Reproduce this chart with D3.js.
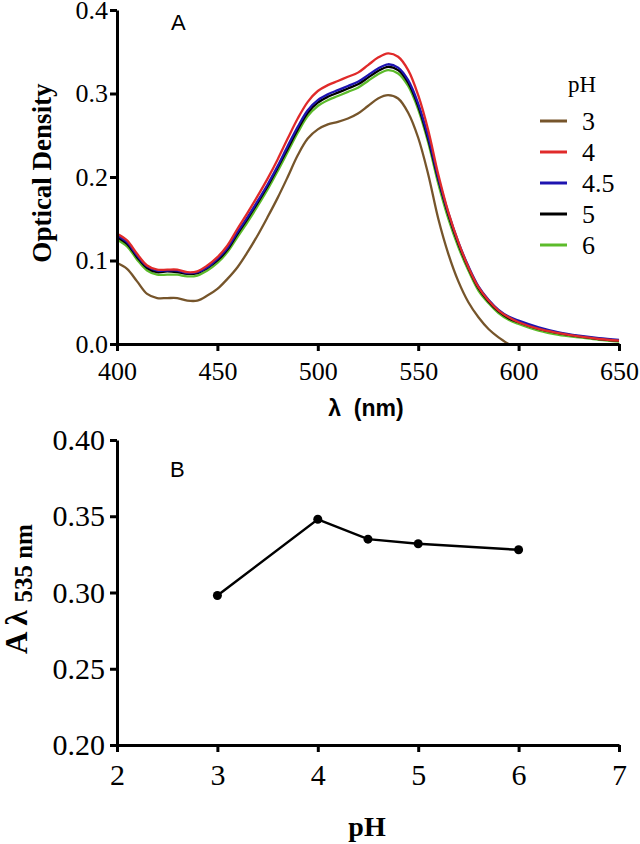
<!DOCTYPE html>
<html>
<head>
<meta charset="utf-8">
<script src="https://cdn.jsdelivr.net/npm/d3@7"></script>
<style>
  body { margin: 0; background: #fff; }
</style>
</head>
<body>
<script>
const SERIF = "'Liberation Serif', 'Times New Roman', Times, serif";
const SANS = "'Liberation Sans', Arial, Helvetica, sans-serif";

// wavelengths (nm) for spectra
const wl = [400,405,410,415,420,425,430,435,440,445,450,455,460,465,470,475,480,485,490,495,500,505,510,515,520,525,530,535,540,545,550,555,560,565,570,575,580,585,590,595,600,610,620,630,640,650];

// optical density, one array per pH
const od3 = [0.097,0.090,0.075,0.060,0.055,0.055,0.055,0.052,0.052,0.058,0.066,0.078,0.092,0.110,0.130,0.152,0.175,0.200,0.226,0.246,0.257,0.263,0.266,0.270,0.276,0.285,0.294,0.298,0.294,0.277,0.247,0.203,0.150,0.108,0.075,0.050,0.032,0.018,0.008,0.000];
const od4 = [0.132,0.124,0.108,0.094,0.089,0.089,0.089,0.086,0.087,0.094,0.104,0.118,0.138,0.157,0.177,0.198,0.221,0.246,0.270,0.290,0.303,0.310,0.315,0.320,0.325,0.334,0.343,0.348,0.344,0.328,0.298,0.256,0.203,0.158,0.122,0.092,0.068,0.052,0.040,0.032,0.026,0.018,0.013,0.009,0.006,0.004];
const od45 = [0.130,0.122,0.106,0.093,0.088,0.088,0.088,0.085,0.086,0.092,0.102,0.115,0.134,0.152,0.171,0.191,0.213,0.237,0.260,0.280,0.292,0.299,0.304,0.309,0.314,0.322,0.330,0.335,0.331,0.316,0.288,0.248,0.199,0.157,0.122,0.093,0.069,0.053,0.041,0.033,0.028,0.020,0.014,0.010,0.007,0.005];
const od5 = [0.128,0.120,0.104,0.091,0.086,0.087,0.086,0.084,0.085,0.091,0.100,0.113,0.132,0.150,0.169,0.189,0.211,0.234,0.257,0.277,0.289,0.296,0.301,0.306,0.311,0.319,0.327,0.332,0.328,0.313,0.285,0.245,0.197,0.155,0.120,0.091,0.067,0.051,0.039,0.031,0.026,0.018,0.013,0.009,0.006,0.004];
const od6 = [0.125,0.117,0.101,0.088,0.083,0.083,0.083,0.081,0.082,0.088,0.097,0.110,0.128,0.146,0.165,0.185,0.207,0.230,0.253,0.273,0.285,0.292,0.297,0.302,0.307,0.315,0.323,0.328,0.324,0.309,0.281,0.241,0.192,0.150,0.116,0.088,0.064,0.049,0.037,0.029,0.024,0.016,0.011,0.008,0.005,0.003];

const phLabels = ["3","4","4.5","5","6"];
const phColors = ["#76552b","#e02a2a","#1e14b0","#000000","#5cbb2a"];

// panel B: absorbance at 535 nm vs pH
const phValues = [3,4,4.5,5,6];
const a535 = [0.298,0.348,0.335,0.332,0.328];

const xTicksA = [400,450,500,550,600,650];
const yTicksA = [0.0,0.1,0.2,0.3,0.4];
const xTicksB = [2,3,4,5,6,7];
const yTicksB = [0.20,0.25,0.30,0.35,0.40];

const svg = d3.select("body").append("svg")
    .attr("width", 640)
    .attr("height", 844);

function styleAxis(g, size) {
    g.attr("font-family", SERIF).attr("font-size", size);
    g.selectAll("path.domain").attr("stroke", "#000").attr("stroke-width", 3);
    g.selectAll(".tick line").attr("stroke", "#000").attr("stroke-width", 3);
    g.selectAll(".tick text").attr("fill", "#000");
}

// ---------- Panel A ----------
const xA = d3.scaleLinear().domain([400, 650]).range([117, 619]);
const yA = d3.scaleLinear().domain([0, 0.4]).range([344, 10]);

const spectra = [od3, od4, od45, od5, od6].map((vals, i) => ({
    label: phLabels[i],
    color: phColors[i],
    points: vals.map((v, j) => [wl[j], v])
}));

const lineA = d3.line()
    .x(d => xA(d[0]))
    .y(d => yA(d[1]))
    .curve(d3.curveCatmullRom.alpha(0.5));

// draw order: brown, green, black, blue, red
[0, 4, 3, 2, 1].forEach(i => {
    svg.append("path")
        .attr("d", lineA(spectra[i].points))
        .attr("fill", "none")
        .attr("stroke", spectra[i].color)
        .attr("stroke-width", 2.3);
});

const gxA = svg.append("g")
    .attr("transform", "translate(0,344)")
    .call(d3.axisBottom(xA).tickValues(xTicksA).tickFormat(d3.format("d")).tickSize(7).tickSizeOuter(0).tickPadding(11));
styleAxis(gxA, 26);

const gyA = svg.append("g")
    .attr("transform", "translate(117,0)")
    .call(d3.axisLeft(yA).tickValues(yTicksA).tickFormat(d3.format(".1f")).tickSize(7).tickSizeOuter(0).tickPadding(2));
styleAxis(gyA, 26);

svg.append("text")
    .attr("transform", "translate(51,173) rotate(-90)")
    .attr("text-anchor", "middle")
    .attr("font-family", SERIF)
    .attr("font-size", 27)
    .attr("font-weight", "bold")
    .text("Optical Density");

svg.append("text")
    .attr("x", 366)
    .attr("y", 416)
    .attr("text-anchor", "middle")
    .attr("font-family", SANS)
    .attr("font-size", 23)
    .attr("font-weight", "bold")
    .style("white-space", "pre")
    .text("λ  (nm)");

svg.append("text")
    .attr("x", 171)
    .attr("y", 30)
    .attr("font-family", SANS)
    .attr("font-size", 22)
    .text("A");

// legend
svg.append("text")
    .attr("x", 582)
    .attr("y", 92)
    .attr("text-anchor", "middle")
    .attr("font-family", SERIF)
    .attr("font-size", 23)
    .text("pH");

const legend = svg.append("g");
spectra.forEach((s, i) => {
    const y = 121 + i * 31;
    legend.append("line")
        .attr("x1", 540).attr("x2", 567)
        .attr("y1", y).attr("y2", y)
        .attr("stroke", s.color)
        .attr("stroke-width", 3);
    legend.append("text")
        .attr("x", 582)
        .attr("y", y + 9)
        .attr("font-family", SERIF)
        .attr("font-size", 26)
        .text(s.label);
});

// ---------- Panel B ----------
const xB = d3.scaleLinear().domain([2, 7]).range([117, 619]);
const yB = d3.scaleLinear().domain([0.2, 0.4]).range([745, 440]);

const ptsB = phValues.map((p, i) => [p, a535[i]]);

svg.append("path")
    .attr("d", d3.line().x(d => xB(d[0])).y(d => yB(d[1]))(ptsB))
    .attr("fill", "none")
    .attr("stroke", "#000")
    .attr("stroke-width", 2.5);

svg.selectAll("circle.pt")
    .data(ptsB)
    .join("circle")
    .attr("class", "pt")
    .attr("cx", d => xB(d[0]))
    .attr("cy", d => yB(d[1]))
    .attr("r", 4.5)
    .attr("fill", "#000");

const gxB = svg.append("g")
    .attr("transform", "translate(0,745)")
    .call(d3.axisBottom(xB).tickValues(xTicksB).tickFormat(d3.format("d")).tickSize(7).tickSizeOuter(0).tickPadding(12));
styleAxis(gxB, 30);

const gyB = svg.append("g")
    .attr("transform", "translate(117,0)")
    .call(d3.axisLeft(yB).tickValues(yTicksB).tickFormat(d3.format(".2f")).tickSize(7).tickSizeOuter(0).tickPadding(5));
styleAxis(gyB, 30);

const yLabB = svg.append("text")
    .attr("transform", "translate(27,589) rotate(-90)")
    .attr("text-anchor", "middle")
    .attr("font-family", SERIF)
    .attr("font-size", 31)
    .attr("font-weight", "bold");
yLabB.append("tspan").text("A λ ");
yLabB.append("tspan").attr("dy", 5).attr("font-size", 25).text("535 nm");

svg.append("text")
    .attr("x", 367)
    .attr("y", 836)
    .attr("text-anchor", "middle")
    .attr("font-family", SERIF)
    .attr("font-size", 28)
    .attr("font-weight", "bold")
    .text("pH");

svg.append("text")
    .attr("x", 170)
    .attr("y", 477)
    .attr("font-family", SANS)
    .attr("font-size", 22)
    .text("B");
</script>
</body>
</html>
